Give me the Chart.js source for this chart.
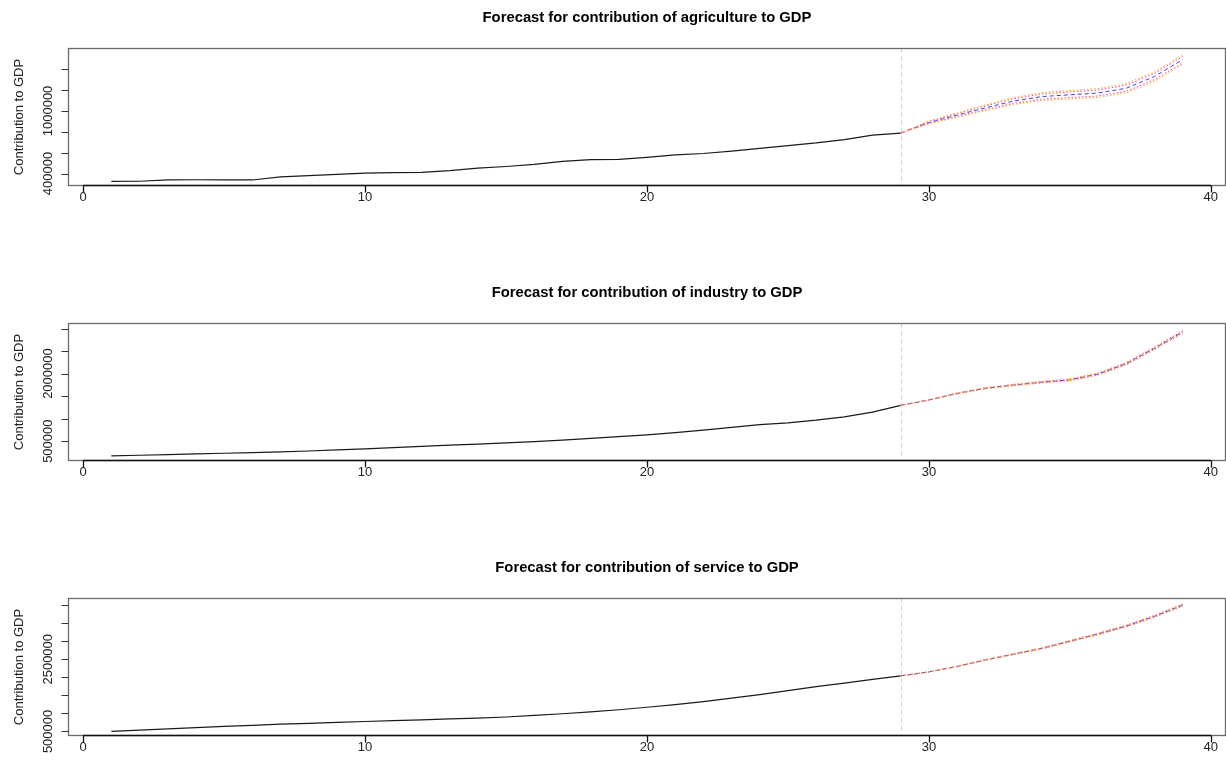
<!DOCTYPE html>
<html>
<head>
<meta charset="utf-8">
<script src="https://cdn.jsdelivr.net/npm/chart.js@4.4.1/dist/chart.umd.min.js"></script>
<style>
  html, body { margin: 0; padding: 0; background: #ffffff; }
  #wrap { position: relative; width: 1226px; height: 765px; overflow: hidden; background: #fff; }
  .pane { position: absolute; left: 0; width: 1226px; height: 275px; }
  canvas { display: block; }
</style>
</head>
<body>
<div id="wrap">
  <div class="pane" style="top:0px"><canvas id="c1" width="1226" height="275"></canvas></div>
  <div class="pane" style="top:275px"><canvas id="c2" width="1226" height="275"></canvas></div>
  <div class="pane" style="top:550px"><canvas id="c3" width="1226" height="275"></canvas></div>
</div>
<script>
// ---------- data ----------
const YEARS_HIST = [1,2,3,4,5,6,7,8,9,10,11,12,13,14,15,16,17,18,19,20,21,22,23,24,25,26,27,28,29];
const YEARS_FC   = [29,30,31,32,33,34,35,36,37,38,39];
const FORECAST_START = 29;
const X_TICKS = [0, 10, 20, 30, 40];

const TITLES = [
  'Forecast for contribution of agriculture to GDP',
  'Forecast for contribution of industry to GDP',
  'Forecast for contribution of service to GDP'
];
const Y_TITLE = 'Contribution to GDP';

// agriculture
const AGRI_HIST = [324000,326000,338000,340000,339000,338000,368000,380000,392000,404000,408000,411000,428000,452000,467000,488000,517000,533000,536000,555000,578000,592000,615000,642000,668000,693000,725000,769000,788000];
const AGRI_MEAN = [788000,889000,960000,1030000,1095000,1138000,1155000,1172000,1218000,1330000,1492000];
const AGRI_HI80 = [788000,898000,973000,1048000,1116000,1163000,1182000,1200000,1247000,1359000,1522000];
const AGRI_LO80 = [788000,880000,947000,1012000,1074000,1113000,1128000,1144000,1189000,1301000,1462000];
const AGRI_HI95 = [788000,903000,980000,1058000,1128000,1176000,1196000,1215000,1262000,1375000,1538000];
const AGRI_LO95 = [788000,875000,940000,1002000,1062000,1100000,1114000,1129000,1174000,1285000,1446000];
const AGRI_Y_TICKS  = [400000,600000,800000,1000000,1200000,1400000];
const AGRI_Y_LABELS = [400000,1000000];

// industry
const IND_HIST = [175000,188000,203000,217000,232000,246000,262000,282000,305000,330000,357000,385000,412000,436000,460000,490000,525000,562000,600000,640000,690000,745000,808000,865000,905000,965000,1040000,1145000,1295000];
const IND_MEAN = [1295000,1414000,1560000,1675000,1745000,1810000,1860000,1990000,2220000,2560000,2925000];
const IND_HI80 = [1295000,1418000,1566000,1683000,1755000,1822000,1874000,2006000,2238000,2580000,2947000];
const IND_LO80 = [1295000,1410000,1554000,1667000,1735000,1798000,1846000,1974000,2202000,2540000,2903000];
const IND_HI95 = [1295000,1420000,1569000,1687000,1760000,1828000,1881000,2014000,2247000,2590000,2958000];
const IND_LO95 = [1295000,1408000,1551000,1663000,1730000,1792000,1839000,1966000,2193000,2530000,2892000];
const IND_Y_TICKS  = [500000,1000000,1500000,2000000,2500000,3000000];
const IND_Y_LABELS = [500000,2000000];

// service
const SERV_HIST = [500000,535000,570000,605000,638000,668000,700000,725000,750000,775000,798000,822000,846000,870000,900000,945000,990000,1040000,1100000,1170000,1245000,1325000,1420000,1520000,1630000,1740000,1840000,1940000,2039000];
const SERV_MEAN = [2039000,2150000,2300000,2480000,2640000,2800000,3000000,3200000,3420000,3690000,4000000];
const SERV_HI80 = [2039000,2153000,2305000,2487000,2649000,2811000,3013000,3215000,3437000,3709000,4021000];
const SERV_LO80 = [2039000,2147000,2295000,2473000,2631000,2789000,2987000,3185000,3403000,3671000,3979000];
const SERV_HI95 = [2039000,2155000,2308000,2491000,2654000,2817000,3020000,3223000,3446000,3719000,4032000];
const SERV_LO95 = [2039000,2145000,2292000,2469000,2626000,2783000,2980000,3177000,3394000,3661000,3968000];
const SERV_Y_TICKS  = [500000,1000000,1500000,2000000,2500000,3000000,3500000,4000000];
const SERV_Y_LABELS = [500000,2500000];

// ---------- drawing ----------
const FONT = '"Liberation Sans", Arial, Helvetica, sans-serif';

function pts(xs, ys) { return xs.map((x, i) => ({ x: x, y: ys[i] })); }

function framePlugin(title, yTicks, yLabels) {
  return {
    id: 'rframe',
    beforeDatasetsDraw(chart) {
      const { ctx, chartArea: a, scales: { x } } = chart;
      const px = Math.round(x.getPixelForValue(FORECAST_START)) + 0.5;
      ctx.save();
      ctx.strokeStyle = '#cfcfcf';
      ctx.lineWidth = 1;
      ctx.setLineDash([4, 4]);
      ctx.beginPath();
      ctx.moveTo(px, a.top);
      ctx.lineTo(px, a.bottom);
      ctx.stroke();
      ctx.restore();
    },
    afterDraw(chart) {
      const { ctx, chartArea: a, scales: { x, y } } = chart;
      ctx.save();
      // box
      ctx.strokeStyle = '#6a6a6a';
      ctx.lineWidth = 1.3;
      ctx.strokeRect(a.left, a.top, a.right - a.left, a.bottom - a.top);

      // x axis
      ctx.strokeStyle = '#111';
      ctx.lineWidth = 1.3;
      ctx.beginPath();
      ctx.moveTo(x.getPixelForValue(X_TICKS[0]), a.bottom);
      ctx.lineTo(x.getPixelForValue(X_TICKS[X_TICKS.length - 1]), a.bottom);
      X_TICKS.forEach(v => {
        const p = Math.round(x.getPixelForValue(v)) + 0.5;
        ctx.moveTo(p, a.bottom);
        ctx.lineTo(p, a.bottom + 7);
      });
      ctx.stroke();
      ctx.fillStyle = '#222';
      ctx.font = '13px ' + FONT;
      ctx.textAlign = 'center';
      ctx.textBaseline = 'middle';
      X_TICKS.forEach(v => ctx.fillText(String(v), x.getPixelForValue(v), a.bottom + 12));

      // y axis
      ctx.strokeStyle = '#333';
      ctx.lineWidth = 1.2;
      ctx.beginPath();
      yTicks.forEach(v => {
        const p = Math.round(y.getPixelForValue(v)) + 0.5;
        ctx.moveTo(a.left - 7, p);
        ctx.lineTo(a.left, p);
      });
      ctx.stroke();
      yLabels.forEach(v => {
        const p = y.getPixelForValue(v);
        ctx.save();
        ctx.translate(48.5, p);
        ctx.rotate(-Math.PI / 2);
        ctx.fillText(String(v), 0, 0);
        ctx.restore();
      });

      // y title
      ctx.save();
      ctx.translate(19.5, (a.top + a.bottom) / 2);
      ctx.rotate(-Math.PI / 2);
      ctx.fillStyle = '#222';
      ctx.font = '13px ' + FONT;
      ctx.fillText(Y_TITLE, 0, 0);
      ctx.restore();

      // main title
      ctx.fillStyle = '#000';
      ctx.font = 'bold 14.8px ' + FONT;
      ctx.fillText(title, (a.left + a.right) / 2, a.top - 30.5);
      ctx.restore();
    }
  };
}

function makeChart(id, title, hist, mean, lo80, hi80, lo95, hi95, yMin, yMax, yTicks, yLabels) {
  const base = { pointRadius: 0, tension: 0, fill: false, borderWidth: 1 };
  return new Chart(document.getElementById(id), {
    type: 'line',
    data: {
      datasets: [
        Object.assign({ label: 'Upper 95', data: pts(YEARS_FC, hi95), borderColor: '#ffa030', borderDash: [1.5, 2] }, base),
        Object.assign({ label: 'Lower 95', data: pts(YEARS_FC, lo95), borderColor: '#ffa030', borderDash: [1.5, 2] }, base),
        Object.assign({ label: 'Upper 80', data: pts(YEARS_FC, hi80), borderColor: '#ff4a86', borderDash: [1.5, 2] }, base),
        Object.assign({ label: 'Lower 80', data: pts(YEARS_FC, lo80), borderColor: '#ff4a86', borderDash: [1.5, 2] }, base),
        Object.assign({ label: 'Forecast', data: pts(YEARS_FC, mean), borderColor: '#3a3aff', borderDash: [4, 3] }, base),
        Object.assign({ label: 'Actual', data: pts(YEARS_HIST, hist), borderColor: '#1a1a1a' }, base, { borderWidth: 1.2 })
      ]
    },
    options: {
      responsive: false,
      animation: false,
      devicePixelRatio: 1,
      layout: { padding: { left: 68.5, right: 0.5, top: 48.5, bottom: 89.5 } },
      scales: {
        x: { type: 'linear', min: -0.52, max: 40.52, display: false },
        y: { type: 'linear', min: yMin, max: yMax, display: false }
      },
      plugins: { legend: { display: false }, tooltip: { enabled: false }, title: { display: false } }
    },
    plugins: [framePlugin(title, yTicks, yLabels)]
  });
}

makeChart('c1', TITLES[0], AGRI_HIST, AGRI_MEAN, AGRI_LO80, AGRI_HI80, AGRI_LO95, AGRI_HI95, 285000, 1599000, AGRI_Y_TICKS, AGRI_Y_LABELS);
makeChart('c2', TITLES[1], IND_HIST, IND_MEAN, IND_LO80, IND_HI80, IND_LO95, IND_HI95, 71000, 3111000, IND_Y_TICKS, IND_Y_LABELS);
makeChart('c3', TITLES[2], SERV_HIST, SERV_MEAN, SERV_LO80, SERV_HI80, SERV_LO95, SERV_HI95, 387000, 4183000, SERV_Y_TICKS, SERV_Y_LABELS);
</script>
</body>
</html>
